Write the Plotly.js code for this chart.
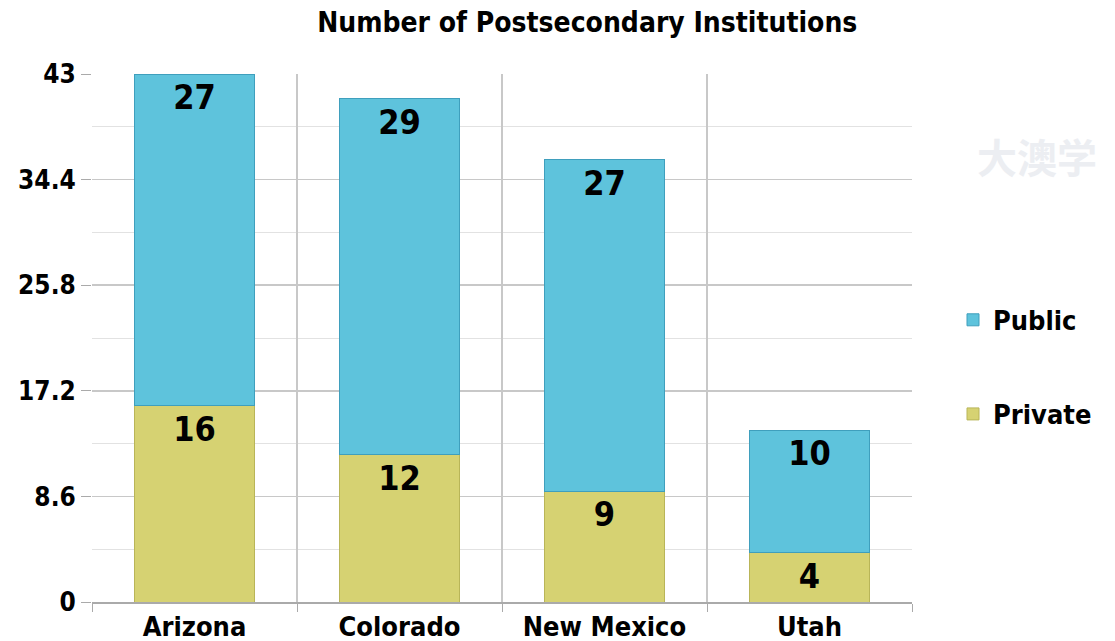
<!DOCTYPE html>
<html>
<head>
<meta charset="utf-8">
<script src="https://cdn.plot.ly/plotly-3.0.1.min.js"></script>
<style>html,body{margin:0;padding:0;background:#fff}#chart{width:1115px;height:641px}</style>
</head>
<body>
<div id="chart"></div>
<script>
const states = ["Arizona", "Colorado", "New Mexico", "Utah"];
const privateVals = [16, 12, 9, 4];
const publicVals = [27, 29, 27, 10];
const yTicks = [0, 8.6, 17.2, 25.8, 34.4, 43];
const yTickText = ["0", "8.6", "17.2", "25.8", "34.4", "43"];

const FONT = "DejaVu Sans Condensed, DejaVu Sans, sans-serif";

const traces = [
  {
    type: "bar", name: "Private", x: states, y: privateVals,
    text: privateVals.map(String), textposition: "inside", insidetextanchor: "end",
    textfont: {family: FONT, size: 34, color: "#000", weight: "bold"},
    marker: {color: "#d6d272", line: {color: "#b9b558", width: 1}},
    legendgroup: "b", legendrank: 2, hoverinfo: "x+y+name"
  },
  {
    type: "bar", name: "Public", x: states, y: publicVals,
    text: publicVals.map(String), textposition: "inside", insidetextanchor: "end",
    textfont: {family: FONT, size: 34, color: "#000", weight: "bold"},
    marker: {color: "#5ec3dc", line: {color: "#3f9fbd", width: 1}},
    legendgroup: "a", legendrank: 1, hoverinfo: "x+y+name"
  }
];

const layout = {
  width: 1115, height: 641,
  margin: {l: 92, r: 203, t: 74, b: 39},
  paper_bgcolor: "#fff", plot_bgcolor: "#fff",
  barmode: "stack", bargap: 0.41,
  font: {family: FONT, color: "#000", weight: "bold"},
  title: {
    text: "Number of Postsecondary Institutions",
    font: {family: FONT, size: 28, color: "#000", weight: "bold"},
    x: 0.604, xref: "paper", xanchor: "center", y: 0.965, yanchor: "middle"
  },
  xaxis: {
    type: "category", tickson: "boundaries",
    showgrid: true, gridcolor: "#c8c8c8", gridwidth: 1.5,
    ticks: "outside", ticklen: 8, tickcolor: "#aaa",
    showline: true, linecolor: "#aaa", linewidth: 1.5,
    tickfont: {family: FONT, size: 27, color: "#000", weight: "bold"},
    zeroline: false, fixedrange: true
  },
  yaxis: {
    range: [0, 43], tickvals: yTicks, ticktext: yTickText,
    showgrid: true, gridcolor: "#c8c8c8", gridwidth: 1.5,
    ticks: "outside", ticklen: 10, tickcolor: "#aaa",
    minor: {dtick: 4.3, tick0: 0, showgrid: true, gridcolor: "#e2e2e2", gridwidth: 1, ticks: ""},
    showline: false, zeroline: false,
    tickfont: {family: FONT, size: 26, color: "#000", weight: "bold"},
    fixedrange: true
  },
  legend: {
    x: 1.05, xanchor: "left", y: 0.58, yanchor: "top",
    traceorder: "grouped", tracegroupgap: 56,
    font: {family: FONT, size: 27, color: "#000", weight: "bold"},
    bgcolor: "rgba(0,0,0,0)"
  },
  annotations: [
    {text: "大澳学", xref: "paper", yref: "paper", x: 1.152, y: 0.845, xanchor: "center", yanchor: "middle",
     showarrow: false, font: {family: "Noto Sans CJK SC", size: 40, color: "#eceef2"}}
  ],
  showlegend: true
};

Plotly.newPlot("chart", traces, layout, {displayModeBar: false, staticPlot: true});
</script>
</body>
</html>
